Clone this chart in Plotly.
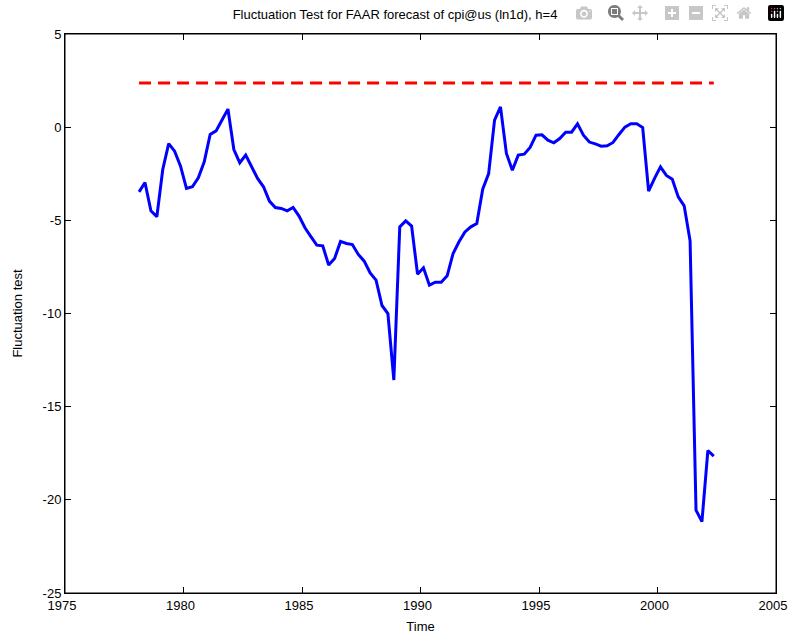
import plotly.graph_objects as go

start_year = 1978.125
step = 0.25
fluct = [-3.47, -2.97, -4.49, -4.81, -2.27, -0.88, -1.29, -2.09, -3.29, -3.20,
         -2.72, -1.86, -0.39, -0.20, 0.38, 0.97, -1.20, -1.91, -1.50, -2.16,
         -2.75, -3.20, -3.97, -4.31, -4.36, -4.49, -4.31, -4.77, -5.40, -5.87,
         -6.33, -6.37, -7.40, -7.05, -6.13, -6.24, -6.30, -6.83, -7.19, -7.82,
         -8.21, -9.57, -10.00, -13.57, -5.35, -5.03, -5.31, -7.89, -7.55, -8.48,
         -8.32, -8.32, -7.98, -6.78, -6.15, -5.62, -5.35, -5.17, -3.33, -2.49,
         0.38, 1.09, -1.41, -2.31, -1.50, -1.45, -1.09, -0.43, -0.41, -0.70,
         -0.84, -0.61, -0.27, -0.27, 0.18, -0.43, -0.80, -0.90, -1.02, -1.00,
         -0.82, -0.39, 0.00, 0.18, 0.18, -0.02, -3.43, -2.75, -2.13, -2.59,
         -2.79, -3.74, -4.22, -6.10, -20.55, -21.17, -17.36, -17.65]
time = [start_year + i * step for i in range(len(fluct))]
critical_value = 2.37

x_ticks = [1975, 1980, 1985, 1990, 1995, 2000, 2005]
y_ticks = [5, 0, -5, -10, -15, -20, -25]

fig = go.Figure()
fig.add_trace(go.Scatter(x=time, y=fluct, mode="lines",
                         line=dict(color="#0000ff", width=3), showlegend=False))
fig.add_trace(go.Scatter(x=[time[0], time[-1]], y=[critical_value, critical_value],
                         mode="lines",
                         line=dict(color="#ff0000", width=3, dash="12px,7px"),
                         showlegend=False))

font_family = "Liberation Sans, Arial, sans-serif"
axis_common = dict(showgrid=False, zeroline=False, showline=True, linecolor="black",
                   linewidth=1, mirror="ticks", ticks="inside", ticklen=6,
                   tickcolor="black", ticklabeloverflow="allow",
                   tickfont=dict(size=13, color="black", family=font_family))

fig.add_shape(type="rect", xref="paper", yref="paper", x0=0, y0=0, x1=1, y1=1,
              line=dict(color="black", width=1), fillcolor="rgba(0,0,0,0)", layer="above")

W = 790
H = 639
fig.update_layout(
    width=W, height=H,
    margin=dict(l=65, r=14, t=34, b=46, autoexpand=False),
    paper_bgcolor="white", plot_bgcolor="white",
    title=dict(text="Fluctuation Test for FAAR forecast of cpi@us (ln1d), h=4",
               x=0.5, xanchor="center",
               y=1 - 14 / H, yanchor="middle",
               font=dict(size=13, color="black", family=font_family)),
    xaxis=dict(range=[1975, 2005], tickvals=x_ticks, ticktext=[str(v) for v in x_ticks],
               ticklabelshift=-3,
               title=dict(text="Time", standoff=10, font=dict(size=13, color="black", family=font_family)),
               **axis_common),
    yaxis=dict(range=[-25, 5], tickvals=y_ticks, ticktext=[str(v) for v in y_ticks],
               title=dict(text="Fluctuation test", standoff=17, font=dict(size=13, color="black", family=font_family)),
               **axis_common),
)

fig.write_html("out.html",
               post_script="document.body.style.margin='0';document.body.style.overflow='hidden';")
